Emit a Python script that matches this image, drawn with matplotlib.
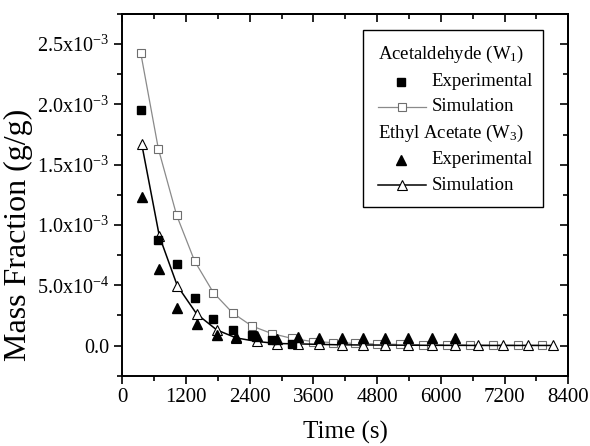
import numpy as np
import matplotlib
matplotlib.use('Agg')
import matplotlib.pyplot as plt
from matplotlib.ticker import MultipleLocator

plt.rcParams['font.family'] = ['Liberation Serif', 'DejaVu Serif']
plt.rcParams['mathtext.fontset'] = 'custom'
plt.rcParams['mathtext.rm'] = 'Liberation Serif'
plt.rcParams['mathtext.it'] = 'Liberation Serif:italic'

# acetaldehyde (W1)
t_w1_sim = [346, 678, 1024, 1363, 1714, 2079, 2437, 2813, 3190, 3585, 3974,
            4382, 4802, 5230, 5669, 6109, 6548, 6987, 7446, 7898]
w1_sim = [2.43e-3, 1.634e-3, 1.08e-3, 0.70e-3, 0.44e-3, 0.27e-3, 0.163e-3,
          0.10e-3, 0.06e-3, 0.033e-3, 0.025e-3, 0.018e-3, 0.013e-3, 0.010e-3,
          0.007e-3, 0.005e-3, 0.004e-3, 0.003e-3, 0.002e-3, 0.002e-3]
t_w1_exp = [346, 678, 1024, 1363, 1714, 2079, 2437, 2813, 3190]
w1_exp = [1.95e-3, 0.876e-3, 0.675e-3, 0.397e-3, 0.218e-3, 0.13e-3, 0.088e-3,
          0.045e-3, 0.012e-3]

# ethyl acetate (W3)
t_w3_sim = [365, 697, 1036, 1401, 1778, 2141, 2531, 2919, 3315, 3711, 4132,
            4527, 4947, 5386, 5827, 6266, 6704, 7175, 7646, 8117]
w3_sim = [1.673e-3, 0.909e-3, 0.496e-3, 0.262e-3, 0.13e-3, 0.064e-3, 0.034e-3,
          0.017e-3, 0.014e-3, 0.010e-3, 0.006e-3, 0.005e-3, 0.004e-3, 0.003e-3,
          0.002e-3, 0.002e-3, 0.001e-3, 0.001e-3, 0.001e-3, 0.001e-3]
t_w3_exp = [365, 697, 1036, 1401, 1778, 2141, 2531, 2919, 3315, 3711, 4132,
            4527, 4947, 5386, 5827, 6266]
w3_exp = [1.235e-3, 0.634e-3, 0.311e-3, 0.179e-3, 0.091e-3, 0.074e-3, 0.08e-3,
          0.053e-3, 0.072e-3, 0.06e-3, 0.066e-3, 0.06e-3, 0.063e-3, 0.063e-3,
          0.06e-3, 0.06e-3]

x_ticks = [0, 1200, 2400, 3600, 4800, 6000, 7200, 8400]
y_ticks = [0.0, 5.0e-4, 1.0e-3, 1.5e-3, 2.0e-3, 2.5e-3]
y_ticklabels = ['0.0', r'5.0x10$^{-4}$', r'1.0x10$^{-3}$', r'1.5x10$^{-3}$',
                r'2.0x10$^{-3}$', r'2.5x10$^{-3}$']

fig = plt.figure(figsize=(5.9, 4.46), dpi=100)
ax = fig.add_axes([0.2073, 0.1576, 0.7559, 0.811])

gray = '#8a8a8a'
ax.plot(t_w1_sim, w1_sim, '-', color=gray, lw=0.9, marker='s', ms=5.5,
        mfc='white', mec='#6e6e6e', mew=0.8, zorder=3)
ax.plot(t_w3_sim, w3_sim, '-', color='black', lw=1.1, marker='^', ms=6.5,
        mfc='white', mec='black', mew=0.8, zorder=3)
ax.plot(t_w1_exp, w1_exp, 's', color='black', ms=5.5, zorder=4)
ax.plot(t_w3_exp, w3_exp, '^', color='black', ms=6.5, zorder=4)

ax.set_xlim(0, 8400)
ax.set_ylim(-2.5e-4, 2.75e-3)
ax.set_xticks(x_ticks)
ax.set_yticks(y_ticks)
ax.set_yticklabels(y_ticklabels)
ax.xaxis.set_minor_locator(MultipleLocator(600))
ax.yaxis.set_minor_locator(MultipleLocator(2.5e-4))
ax.tick_params(which='both', direction='out', width=1.2)
ax.tick_params(axis='x', labelsize=15, pad=3)
ax.tick_params(axis='y', labelsize=14.5)
ax.tick_params(which='major', length=6)
ax.tick_params(which='minor', length=3.5)

# inward ticks on top and right
top = ax.secondary_xaxis('top')
top.set_xticks(x_ticks)
top.xaxis.set_minor_locator(MultipleLocator(600))
top.tick_params(which='both', direction='in', labeltop=False, width=1.2)
top.tick_params(which='major', length=6)
top.tick_params(which='minor', length=3.5)
right = ax.secondary_yaxis('right')
right.set_yticks(y_ticks)
right.yaxis.set_minor_locator(MultipleLocator(2.5e-4))
right.tick_params(which='both', direction='in', labelright=False, width=1.2)
right.tick_params(which='major', length=6)
right.tick_params(which='minor', length=3.5)

for s in ax.spines.values():
    s.set_linewidth(1.4)
top.spines['top'].set_linewidth(1.4)
right.spines['right'].set_linewidth(1.4)

ax.set_xlabel('Time (s)', fontsize=18)
ax.xaxis.set_label_coords(0.5, -0.125)
ax.xaxis.label.set_va('top')
ax.set_ylabel('Mass Fraction (g/g)', fontsize=23)
ax.yaxis.set_label_coords(-0.2, 0.39)

# legend drawn by hand (headers flush left, entries indented)
tr = ax.transAxes
box = plt.Rectangle((0.540, 0.466), 0.403, 0.490, transform=tr, fill=True,
                    facecolor='white', edgecolor='black', lw=1.0, zorder=5)
ax.add_patch(box)
rows = [0.887, 0.813, 0.744, 0.670, 0.597, 0.527]
fs = 13.5
ax.text(0.574, rows[0], r'Acetaldehyde (W$_1$)', transform=tr, fontsize=fs,
        va='center', zorder=6)
ax.plot([0.625], [rows[1]], 's', color='black', ms=5.5, transform=tr, zorder=6)
ax.text(0.694, rows[1], 'Experimental', transform=tr, fontsize=fs,
        va='center', zorder=6)
ax.plot([0.574, 0.680], [rows[2]] * 2, '-', color=gray, lw=0.9,
        transform=tr, zorder=6)
ax.plot([0.627], [rows[2]], 's', ms=5.5, mfc='white', mec='#6e6e6e', mew=0.8,
        transform=tr, zorder=7)
ax.text(0.694, rows[2], 'Simulation', transform=tr, fontsize=fs,
        va='center', zorder=6)
ax.text(0.574, rows[3], r'Ethyl Acetate (W$_3$)', transform=tr, fontsize=fs,
        va='center', zorder=6)
ax.plot([0.625], [rows[4]], '^', color='black', ms=6.5, transform=tr, zorder=6)
ax.text(0.694, rows[4], 'Experimental', transform=tr, fontsize=fs,
        va='center', zorder=6)
ax.plot([0.574, 0.680], [rows[5]] * 2, '-', color='black', lw=1.1,
        transform=tr, zorder=6)
ax.plot([0.627], [rows[5]], '^', ms=6.5, mfc='white', mec='black', mew=0.8,
        transform=tr, zorder=7)
ax.text(0.694, rows[5], 'Simulation', transform=tr, fontsize=fs,
        va='center', zorder=6)

fig.savefig('out.png', dpi=100)
